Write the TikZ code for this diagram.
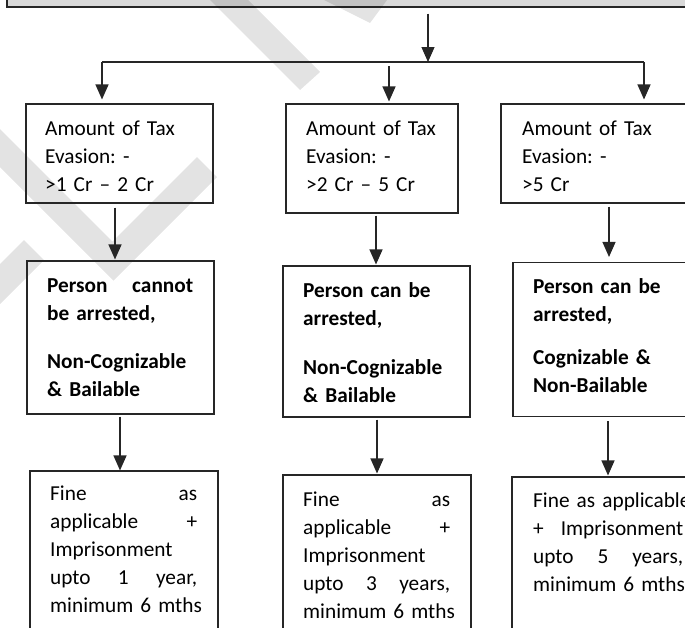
\documentclass[tikz,border=0pt]{standalone}
\usepackage{fontspec}
\setmainfont{Carlito}
\usetikzlibrary{arrows.meta,calc}
\begin{document}
\frenchspacing
\hyphenpenalty=10000\relax
\begin{tikzpicture}[x=1pt,y=-1pt,
  box/.style={draw=black!85, line width=1.1pt, inner sep=0pt},
  arr/.style={draw=black!85, line width=1.2pt, -{Triangle[width=13pt,length=15pt]}},
  link/.style={draw=black!85, line width=1.2pt},
  txt/.style={anchor=base west, inner sep=0pt, align=left,
              font=\fontsize{21.3}{28}\selectfont},
  txtb/.style={txt, font=\fontsize{21.3}{28}\selectfont\bfseries},
  wm/.style={fill=black, opacity=0.11}]

\clip (0,0) rectangle (685,627);
\fill[white] (0,0) rectangle (685,627);

% heading bar (only its lower edge is in view)
\node[box, fill=black!15, minimum width=693pt, minimum height=27pt] (head) at (353.5,-6.5) {};

% faint watermark strokes
\fill[wm] (200,-10) -- (300,90) -- (320,72) -- (220,-28) -- cycle;
\fill[wm] (300,-12) -- (370,23) -- (390,-4) -- (330,-30) -- cycle;
\fill[wm] (-30,99) -- (112.5,241.5) -- (197,157) -- (217,177) -- (113.5,280.5) -- (-30,137) -- cycle;
\fill[wm] (24,240) -- (44,260) -- (-30,334) -- (-50,314) -- cycle;

% first row: amount of evasion
\node[box, minimum width=187pt, minimum height=99pt]  (L1) at (119.5,153.5) {};
\node[box, minimum width=172pt, minimum height=109pt] (M1) at (372,158.5) {};
\node[box, minimum width=203pt, minimum height=99pt]  (R1) at (602.5,153.5) {};

% second row: arrest status
\node[box, minimum width=187pt, minimum height=153pt] (L2) at (120.5,337.5) {};
\node[box, minimum width=187pt, minimum height=151pt] (M2) at (376.5,341.5) {};
\node[box, minimum width=191pt, minimum height=154pt] (R2) at (608.5,339.5) {};

% third row: punishment
\node[box, minimum width=188pt, minimum height=169pt] (L3) at (124,555.5) {};
\node[box, minimum width=188pt, minimum height=165pt] (M3) at (377,557.5) {};
\node[box, minimum width=192pt, minimum height=163pt] (R3) at (608,558.5) {};

% texts
\node[txt, text width=150pt] (tL1) at (45,135) {Amount of Tax\\Evasion: -\\>1 Cr – 2 Cr};
\node[txt, text width=140pt] (tM1) at (306,135) {Amount of Tax\\Evasion: -\\>2 Cr – 5 Cr};
\node[txt, text width=150pt] (tR1) at (522,135) {Amount of Tax\\Evasion: -\\>5 Cr};

\node[txtb, text width=146pt] (tL2) at (47,292) {Person\hfill cannot\\be arrested,\\[20pt]Non-Cognizable\\\& Bailable};
\node[txtb, text width=150pt] (tM2) at (303,297) {Person can be\\arrested,\\[21pt]Non-Cognizable\\\& Bailable};
\node[txtb, text width=150pt] (tR2) at (533,293) {Person can be\\arrested,\\[15pt]Cognizable \&\\Non-Bailable};

\node[txt, text width=147pt] (tL3) at (50,500) {Fine\hfill as\\applicable\hfill +\\\mbox{Imprisonment}\\upto\hfill 1\hfill year,\\\mbox{minimum 6 mths}};
\node[txt, text width=147pt] (tM3) at (303,506) {Fine\hfill as\\applicable\hfill +\\\mbox{Imprisonment}\\upto\hfill 3\hfill years,\\\mbox{minimum 6 mths}};
\node[txt, text width=150pt] (tR3) at (533,507) {\mbox{Fine as applicable}\\+\hfill Imprisonment\\upto\hfill 5\hfill years,\\\mbox{minimum 6 mths}};

% branching connectors
\coordinate (split) at (428,62);
\coordinate (bL) at (102,62);
\coordinate (bM) at (389,62);
\coordinate (bR) at (644,62);
\draw[arr, shorten <=6pt] (head.south -| split) -- (split);
\draw[link] (bL) -- (bR);
\draw[arr, shorten >=4pt] (bL) -- (L1.north -| bL);
\draw[arr, shorten <=4pt, shorten >=2pt] (bM) -- (M1.north -| bM);
\draw[arr, shorten >=4pt] (bR) -- (R1.north -| bR);

% column connectors
\coordinate (cL1) at (115,0);
\coordinate (cM1) at (376,0);
\coordinate (cR1) at (609,0);
\coordinate (cL2) at (120,0);
\coordinate (cM2) at (377,0);
\coordinate (cR2) at (608,0);
\draw[arr, shorten <=4pt, shorten >=1pt] (L1.south -| cL1) -- (L2.north -| cL1);
\draw[arr, shorten <=2pt, shorten >=1pt] (M1.south -| cM1) -- (M2.north -| cM1);
\draw[arr, shorten <=3pt, shorten >=5pt] (R1.south -| cR1) -- (R2.north -| cR1);
\draw[arr, shorten <=2pt] (L2.south -| cL2) -- (L3.north -| cL2);
\draw[arr, shorten <=2pt, shorten >=1pt] (M2.south -| cM2) -- (M3.north -| cM2);
\draw[arr, shorten <=4pt, shorten >=1pt] (R2.south -| cR2) -- (R3.north -| cR2);
\end{tikzpicture}
\end{document}
